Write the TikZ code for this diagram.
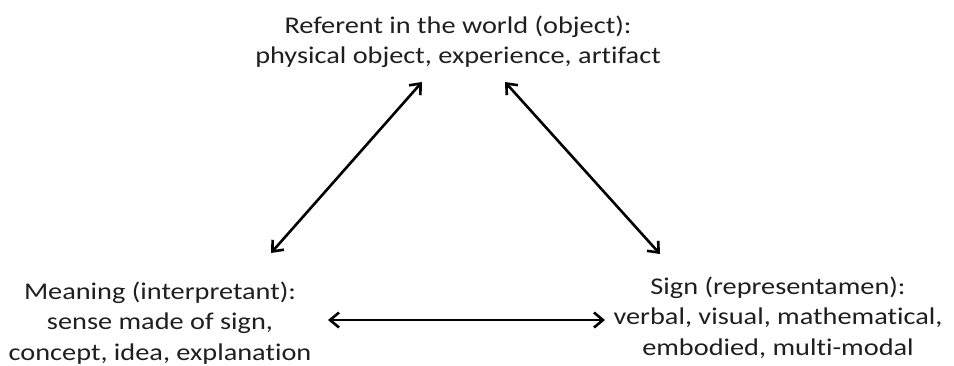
\documentclass[tikz,border=0pt]{standalone}
\usepackage{fontspec}
\setmainfont[Ligatures=NoCommon,FakeStretch=1.18]{Carlito}
\usetikzlibrary{arrows.meta}
\begin{document}
\begin{tikzpicture}[x=1pt,y=-1pt,
  lbl/.style={align=center,inner sep=0pt,text=black!88,font=\fontsize{24}{30.3}\selectfont},
  link/.style={line width=2.6pt,{Straight Barb[length=9pt,width=15pt,line width=2.6pt]}-{Straight Barb[length=9pt,width=15pt,line width=2.6pt]}}]
\useasboundingbox (0,0) rectangle (954,365);
\node[lbl,anchor=base] (ref) at (458,63.5) {Referent in the world (object):\\physical object, experience, artifact};
\node[lbl,anchor=base] (mean) at (160,360) {Meaning (interpretant):\\sense made of sign,\\concept, idea, explanation};
\node[lbl,anchor=base] (sign) at (778,355) {Sign (representamen):\\verbal, visual, mathematical,\\embodied, multi-modal};
\coordinate (rl) at (422,82);
\coordinate (ml) at (271,253);
\coordinate (rr) at (505,82);
\coordinate (sr) at (660,254);
\coordinate (mh) at (328,320);
\coordinate (sh) at (605,320);
\draw[link] (ml) -- (rl);
\draw[link] (rr) -- (sr);
\draw[link] (mh) -- (sh);
\end{tikzpicture}
\end{document}
